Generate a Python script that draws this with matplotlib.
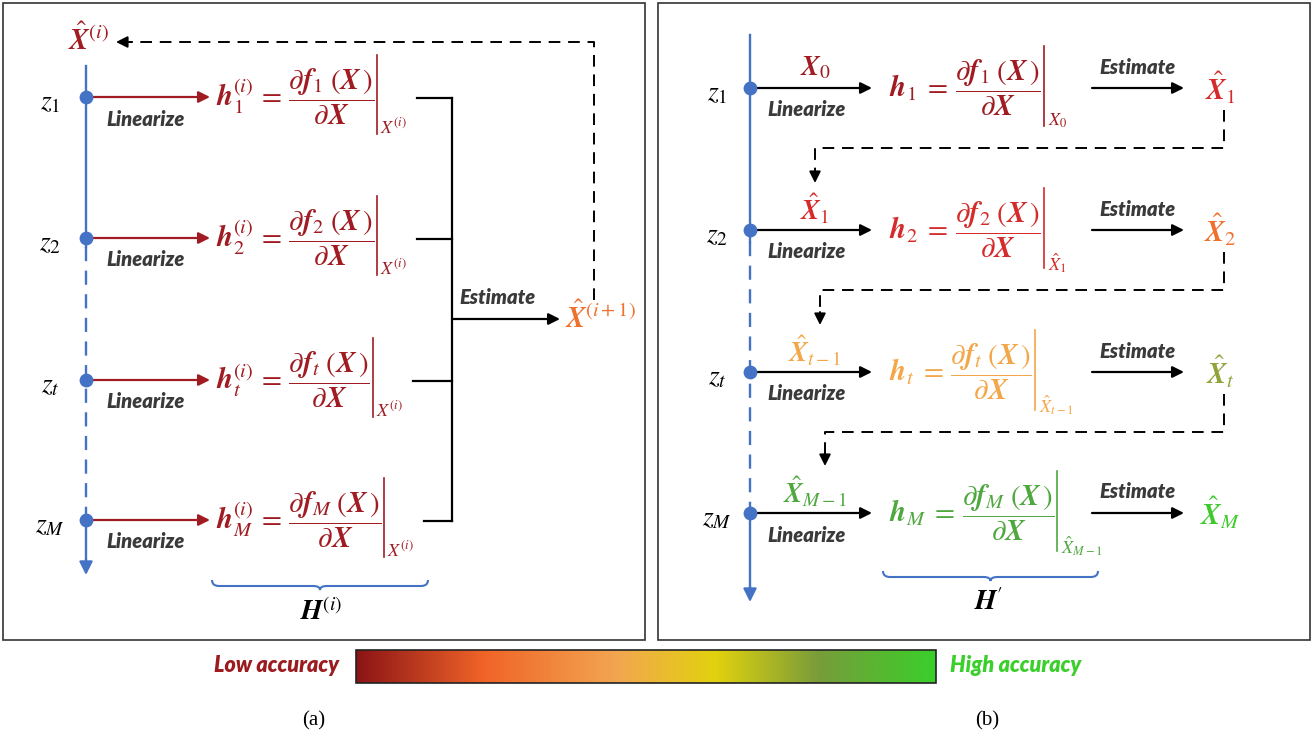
import numpy as np
import matplotlib.pyplot as plt
from matplotlib.colors import LinearSegmentedColormap
from matplotlib.patches import Rectangle, PathPatch
from matplotlib.path import Path

plt.rcParams['mathtext.fontset'] = 'stix'

# Row subscripts and measurement labels (same for both panels)
row_subs = ['1', '2', 't', 'M']
z_labels = [r'$z_{1}$', r'$z_{2}$', r'$z_{t}$', r'$z_{M}$']

# Panel (b): point each row is linearized at, the evaluation point and the estimate it gives
lin_points_b = [r'$\boldsymbol{X}_{0}$', r'$\hat{\boldsymbol{X}}_{1}$',
                r'$\hat{\boldsymbol{X}}_{t-1}$', r'$\hat{\boldsymbol{X}}_{M-1}$']
eval_subs_b = [r'$X_{0}$', r'$\hat{X}_{1}$', r'$\hat{X}_{t-1}$', r'$\hat{X}_{M-1}$']
estimates_b = [r'$\hat{\boldsymbol{X}}_{1}$', r'$\hat{\boldsymbol{X}}_{2}$',
               r'$\hat{\boldsymbol{X}}_{t}$', r'$\hat{\boldsymbol{X}}_{M}$']

# Accuracy colours
dark_red = '#A01C22'
row_colors_b = ['#A01C22', '#D52B2B', '#F3A748', '#4FA83F']
estimate_colors_b = ['#D52B2B', '#F0702E', '#8FA43A', '#3DCB2B']
accuracy_stops = [0.0, 0.22, 0.45, 0.62, 0.80, 1.0]
accuracy_colors = ['#8B1416', '#F06428', '#F2A650', '#E2D20E', '#789C3A', '#3ACF2A']

# Layout (pixel coordinates, y down)
ROW_Y_A = [97, 238, 380, 520]
ROW_Y_B = [88, 230, 372, 513]
BLUE = '#4472C4'
GREY = '#3A3A3A'
DASH = (0, (6, 4))
lin_font = dict(family='Lato', weight='heavy', style='italic', size=14.5, color=GREY)
EQ_A = r'$\boldsymbol{h}_{%s}^{(i)}\,=\,\dfrac{\partial \boldsymbol{f}_{%s}\;\left(\boldsymbol{X}\,\right)}{\partial \boldsymbol{X}}$'
EQ_B = r'$\boldsymbol{h}_{%s}\;=\,\dfrac{\partial \boldsymbol{f}_{%s}\;\left(\boldsymbol{X}\,\right)}{\partial \boldsymbol{X}}$'


def arrow(ax, x0, y0, x1, y1, color, lw=1.6, ms=17):
    ax.annotate('', xy=(x1, y1), xytext=(x0, y0),
                arrowprops=dict(arrowstyle='-|>', color=color, lw=lw,
                                mutation_scale=ms, shrinkA=0, shrinkB=0))


def brace(ax, x0, x1, y_top, color):
    xc = (x0 + x1) / 2
    ym, yb, q = y_top + 6, y_top + 10, 7
    verts = [(x0, y_top), (x0, ym), (x0 + q, ym), (xc - q, ym), (xc, ym), (xc, yb),
             (xc, ym), (xc + q, ym), (x1 - q, ym), (x1, ym), (x1, y_top)]
    codes = [Path.MOVETO, Path.CURVE3, Path.CURVE3, Path.LINETO, Path.CURVE3, Path.CURVE3,
             Path.CURVE3, Path.CURVE3, Path.LINETO, Path.CURVE3, Path.CURVE3]
    ax.add_patch(PathPatch(Path(verts, codes), fill=False, edgecolor=color, lw=1.5))


def right_edge(ax, t, renderer):
    bb = t.get_window_extent(renderer)
    return ax.transData.inverted().transform((bb.x1, bb.y0))[0]


def time_axis(ax, x, y_top, y_dash0, y_dash1, y_tip, rows):
    ax.plot([x, x], [y_top, y_dash0], color=BLUE, lw=1.7)
    ax.plot([x, x], [y_dash0, y_dash1], color=BLUE, lw=1.7, linestyle=DASH)
    ax.plot([x, x], [y_dash1, y_tip - 10], color=BLUE, lw=1.7)
    arrow(ax, x, y_tip - 16, x, y_tip, BLUE, ms=20)
    ax.scatter([x] * len(rows), rows, s=80, color=BLUE, zorder=5)


fig = plt.figure(figsize=(13.14, 7.44), dpi=100)
ax = fig.add_axes([0, 0, 1, 1])
ax.set_xlim(0, 1314)
ax.set_ylim(744, 0)
ax.axis('off')
renderer = fig.canvas.get_renderer()

# Panel frames
ax.add_patch(Rectangle((3, 3), 642, 637, fill=False, edgecolor='#333333', lw=1.2))
ax.add_patch(Rectangle((658, 3), 652, 637, fill=False, edgecolor='#333333', lw=1.2))

# ---------------- panel (a) ----------------
time_axis(ax, 86, 66, 247, ROW_Y_A[-1], 575, ROW_Y_A)
ax.text(88, 40, r'$\hat{\boldsymbol{X}}^{(i)}$', fontsize=21, color=dark_red, ha='center', va='center')

bracket_x = 452
for i, y in enumerate(ROW_Y_A):
    ax.text(50, y + 4, z_labels[i], fontsize=20, ha='center', va='center')
    arrow(ax, 86, y, 210, y, dark_red)
    ax.text(146, y + 22, 'Linearize', ha='center', va='center', **lin_font)
    eq = ax.text(216, y, EQ_A % (row_subs[i], row_subs[i]),
                 fontsize=21, color=dark_red, ha='left', va='center')
    bx = right_edge(ax, eq, renderer) + 3
    ax.plot([bx, bx], [y - 42, y + 37], color=dark_red, lw=1.2)
    sub = ax.text(bx + 3, y + 30, r'$X^{(i)}$', fontsize=13, color=dark_red, ha='left', va='center')
    sx = right_edge(ax, sub, renderer) + 10
    ax.plot([sx, bracket_x], [y + 1, y + 1], color='black', lw=1.6)

ax.plot([bracket_x, bracket_x], [ROW_Y_A[0] + 1, ROW_Y_A[-1] + 1], color='black', lw=1.6)
arrow(ax, bracket_x, 319, 560, 319, 'black')
ax.text(498, 298, 'Estimate', ha='center', va='center', **lin_font)
ax.text(565, 318, r'$\hat{\boldsymbol{X}}^{(i+1)}$', fontsize=21, color='#F0702E', ha='left', va='center')

ax.plot([594, 594, 130], [300, 42, 42], color='black', lw=1.4, linestyle=DASH)
arrow(ax, 132, 42, 116, 42, 'black', lw=1.4)

brace(ax, 212, 428, 580, BLUE)
ax.text(321, 612, r'$\boldsymbol{H}^{(i)}$', fontsize=20, ha='center', va='center')

# ---------------- panel (b) ----------------
time_axis(ax, 750, 35, 242, ROW_Y_B[-1], 602, ROW_Y_B)

dash_end_x = [815, 820, 825]
for i, y in enumerate(ROW_Y_B):
    ax.text(717, y + 4, z_labels[i], fontsize=20, ha='center', va='center')
    arrow(ax, 750, y, 872, y, 'black')
    ax.text(815, y - 21, lin_points_b[i], fontsize=20, color=row_colors_b[i], ha='center', va='center')
    ax.text(807, y + 22, 'Linearize', ha='center', va='center', **lin_font)
    eq = ax.text(889, y, EQ_B % (row_subs[i], row_subs[i]),
                 fontsize=21, color=row_colors_b[i], ha='left', va='center')
    bx = right_edge(ax, eq, renderer) + 3
    ax.plot([bx, bx], [y - 42, y + 38], color=row_colors_b[i], lw=1.2)
    ax.text(bx + 4, y + 33, eval_subs_b[i], fontsize=13, color=row_colors_b[i], ha='left', va='center')
    ax.text(1138, y - 21, 'Estimate', ha='center', va='center', **lin_font)
    arrow(ax, 1092, y, 1184, y, 'black')
    ax.text(1220, y, estimates_b[i], fontsize=21, color=estimate_colors_b[i], ha='center', va='center')
    if i < len(ROW_Y_B) - 1:
        xe = dash_end_x[i]
        y_next = ROW_Y_B[i + 1]
        ax.plot([1224, 1224, xe, xe], [y + 22, y + 60, y + 60, y_next - 58],
                color='black', lw=1.4, linestyle=DASH)
        arrow(ax, xe, y_next - 60, xe, y_next - 47, 'black', lw=1.4)

brace(ax, 883, 1098, 571, BLUE)
ax.text(988, 602, r"$\boldsymbol{H}^{\prime}$", fontsize=20, ha='center', va='center')

# ---------------- accuracy bar ----------------
cmap = LinearSegmentedColormap.from_list('accuracy', list(zip(accuracy_stops, accuracy_colors)))
grad = np.linspace(0, 1, 512).reshape(1, -1)
ax.imshow(grad, cmap=cmap, aspect='auto', extent=(356, 936, 683, 650), zorder=1)
ax.add_patch(Rectangle((356, 650), 580, 33, fill=False, edgecolor='#222222', lw=1.2, zorder=2))
ax.text(276, 666, 'Low accuracy', ha='center', va='center', family='Lato', weight='heavy',
        style='italic', size=15.5, color='#9B1B1F')
ax.text(1016, 666, 'High accuracy', ha='center', va='center', family='Lato', weight='heavy',
        style='italic', size=15.5, color='#3ACF2A')

ax.text(314, 721, '(a)', ha='center', va='center', family='Liberation Serif', size=15)
ax.text(987, 721, '(b)', ha='center', va='center', family='Liberation Serif', size=15)

ax.set_xlim(0, 1314)
ax.set_ylim(744, 0)
fig.savefig('out.png', dpi=100)
